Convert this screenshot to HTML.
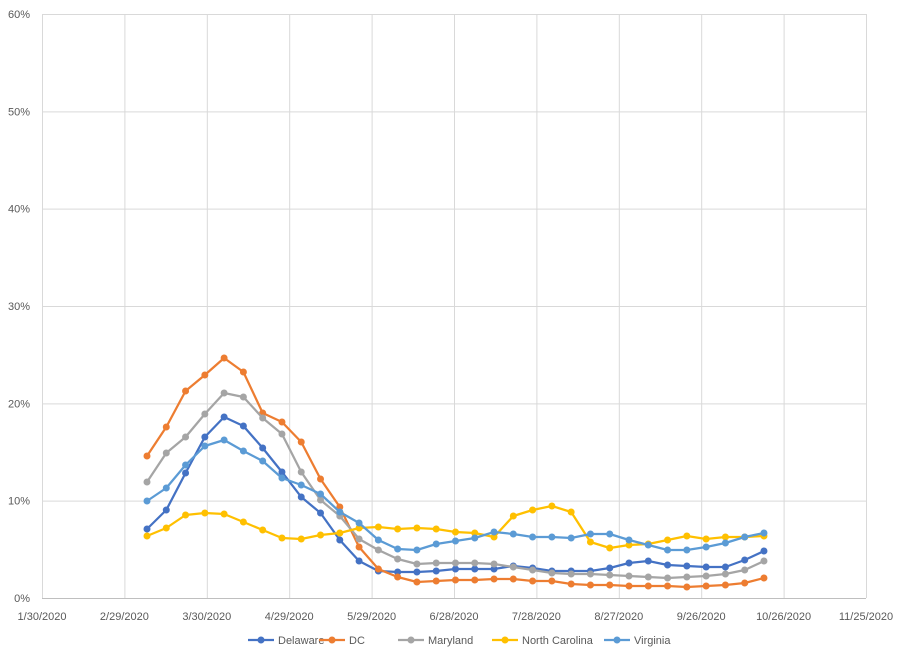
<!DOCTYPE html><html><head><style>body{margin:0;background:#fff}svg text{font-family:"Liberation Sans",sans-serif;font-size:11px;fill:#595959}</style></head><body>
<svg width="910" height="661" xmlns="http://www.w3.org/2000/svg">
<rect width="910" height="661" fill="#fff"/>
<g id="g" stroke="#d9d9d9" stroke-width="1"></g>
<g id="t"></g>
<g id="s"></g>
<g id="l"></g>
</svg>
<script>
const ns="http://www.w3.org/2000/svg";
function el(p,n,a,tx){const e=document.createElementNS(ns,n);for(const k in a)e.setAttribute(k,a[k]);if(tx!==undefined)e.textContent=tx;document.getElementById(p).appendChild(e);return e;}
const X0=42,X1=866,Y0=598,Y60=14;
for(let i=0;i<=6;i++){const y=Y0-(Y0-Y60)*i/6;el('g','line',{x1:X0,x2:X1,y1:y+.5,y2:y+.5});el('t','text',{x:30,y:y+4,'text-anchor':'end'},(i*10)+'%');}
const dl=["1/30/2020","2/29/2020","3/30/2020","4/29/2020","5/29/2020","6/28/2020","7/28/2020","8/27/2020","9/26/2020","10/26/2020","11/25/2020"];
for(let i=0;i<=10;i++){const x=X0+(X1-X0)*i/10;el('g','line',{x1:x+.5,x2:x+.5,y1:Y60,y2:Y0});el('t','text',{x:x,y:620,'text-anchor':'middle'},dl[i]);}
el('g','line',{x1:X0,x2:X1,y1:598.5,y2:598.5,stroke:'#bfbfbf'});
const S=[
["Delaware","#4472c4",[529,510,473,437,417,426,448,472,497,513,540,561,571, 572,572,571,569,569,569,566,568,571,571,571,568,563,561,565,566,567,567,560,551]],
["DC","#ed7d31",[456,427,391,375,358,372,413,422,442,479,507,547,569, 577,582,581,580,580,579,579,581,581,584,585,585,586,586,586,587,586,585,583,578]],
["Maryland","#a5a5a5",[482,453,437,414,393,397,418,434,472,500,516,539,550, 559,564,563,563,563,564,567,570,573,574,574,575,576,577,578,577,576,574,570,561]],
["North Carolina","#ffc000",[536,528,515,513,514,522,530,538,539,535,533,528,527, 529,528,529,532,533,537,516,510,506,512,542,548,545,544,540,536,539,537,537,536]],
["Virginia","#5b9bd5",[501,488,465,446,440,451,461,478,485,494,512,523,540, 549,550,544,541,538,532,534,537,537,538,534,534,540,545,550,550,547,543,537,533]]];
const lx=[248,319,398,492,604];
S.forEach((s,k)=>{const pts=s[2].map((y,i)=>[147+19.28*i,y]);
el('s','polyline',{points:pts.map(p=>p.join(',')).join(' '),fill:'none',stroke:s[1],'stroke-width':2.25,'stroke-linejoin':'round'});
pts.forEach(p=>el('s','circle',{cx:p[0],cy:p[1],r:3.5,fill:s[1]}));
const x=lx[k];el('l','line',{x1:x,x2:x+26,y1:640,y2:640,stroke:s[1],'stroke-width':2.25});el('l','circle',{cx:x+13,cy:640,r:3.5,fill:s[1]});el('l','text',{x:x+30,y:644},s[0]);});
</script>
</body></html>
